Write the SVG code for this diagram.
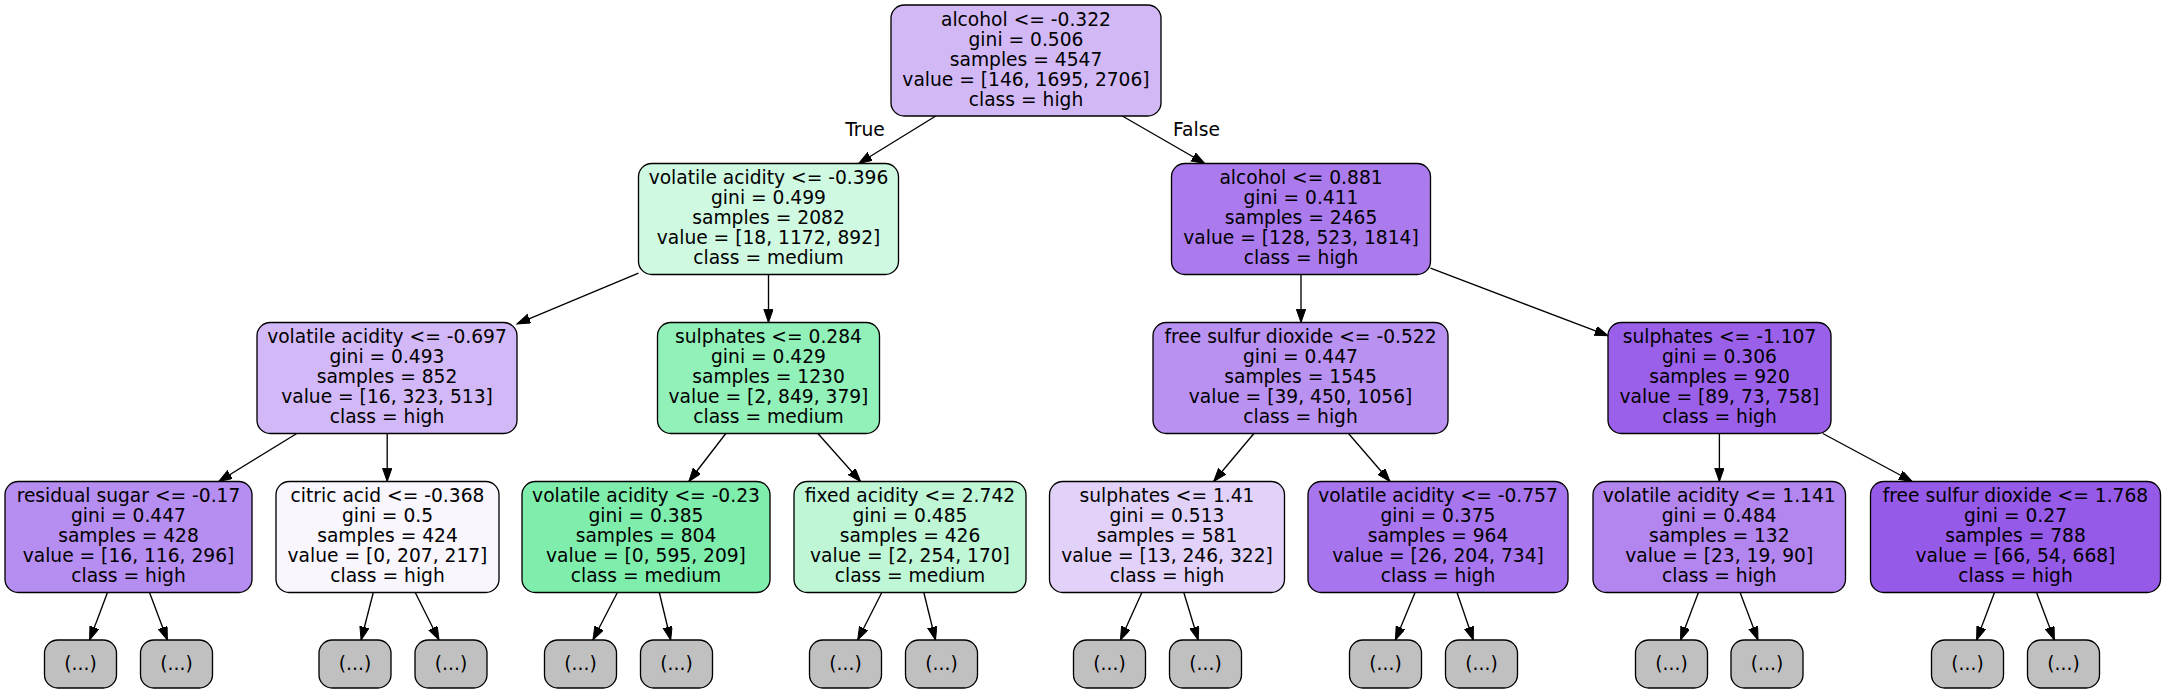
<svg xmlns="http://www.w3.org/2000/svg" width="2165" height="693" viewBox="0 0 2165 693">
<defs>
<style>
.n rect{stroke:#000;stroke-width:1.33}
.leaf rect{fill:#c0c0c0}
text{font-family:"DejaVu Sans","Liberation Sans",sans-serif;font-size:18.67px;fill:#000;text-anchor:middle}
.e line{stroke:#000;stroke-width:1.33;marker-end:url(#ah)}
</style>
<marker id="ah" markerUnits="userSpaceOnUse" markerWidth="15" markerHeight="11" refX="13.3" refY="4.67" orient="auto">
<path d="M0,0 L13.3,4.67 L0,9.33 z" fill="#000" stroke="#000" stroke-width="1"/>
</marker>
</defs>
<rect width="2165" height="693" fill="#fff"/>
<g id="connectors" class="e">
<line x1="935.8" y1="116" x2="858.7" y2="163.5"/>
<line x1="1122.3" y1="116" x2="1204.7" y2="163.5"/>
<line x1="638.5" y1="273.2" x2="517" y2="323.8"/>
<line x1="768.5" y1="274.5" x2="768.5" y2="322.5"/>
<line x1="1301" y1="274.5" x2="1301" y2="322.5"/>
<line x1="1430.5" y1="268.2" x2="1608" y2="335.6"/>
<line x1="296.8" y1="433.5" x2="218.7" y2="481.5"/>
<line x1="387.2" y1="433.5" x2="387.2" y2="481.5"/>
<line x1="107.5" y1="592.5" x2="89.6" y2="640"/>
<line x1="149.5" y1="592.5" x2="167.4" y2="640"/>
<line x1="373.3" y1="592.5" x2="361.1" y2="640"/>
<line x1="415.2" y1="592.5" x2="439" y2="640"/>
<line x1="725.8" y1="433.5" x2="688.8" y2="481.5"/>
<line x1="817.9" y1="433.5" x2="860.6" y2="481.5"/>
<line x1="617.4" y1="592.5" x2="592.9" y2="640"/>
<line x1="659.3" y1="592.5" x2="670.7" y2="640"/>
<line x1="881.8" y1="592.5" x2="857.7" y2="640"/>
<line x1="923.8" y1="592.5" x2="935.5" y2="640"/>
<line x1="1253.9" y1="433.5" x2="1213.6" y2="481.5"/>
<line x1="1348.5" y1="433.5" x2="1390" y2="481.5"/>
<line x1="1141.9" y1="592.5" x2="1120.4" y2="640"/>
<line x1="1183.8" y1="592.5" x2="1198.2" y2="640"/>
<line x1="1415.1" y1="592.5" x2="1395.4" y2="640"/>
<line x1="1457" y1="592.5" x2="1473.3" y2="640"/>
<line x1="1719.4" y1="433.5" x2="1719.4" y2="481.5"/>
<line x1="1822.8" y1="433.5" x2="1912.2" y2="481.5"/>
<line x1="1698.4" y1="592.5" x2="1680.5" y2="640"/>
<line x1="1740.1" y1="592.5" x2="1758" y2="640"/>
<line x1="1994.5" y1="592.5" x2="1976.6" y2="640"/>
<line x1="2036.5" y1="592.5" x2="2054.4" y2="640"/>
<text x="865" y="136">True</text>
<text x="1196.5" y="136">False</text>
</g>
<g id="n0" class="n"><rect x="891" y="5" width="270" height="111" rx="13.3" fill="#d2b9f6"/>
<text x="1026" y="25.5">alcohol &lt;= -0.322</text><text x="1026" y="45.5">gini = 0.506</text><text x="1026" y="65.5">samples = 4547</text><text x="1026" y="85.5">value = [146, 1695, 2706]</text><text x="1026" y="105.5">class = high</text></g>
<g id="n1" class="n"><rect x="638.5" y="163.5" width="260" height="111" rx="13.3" fill="#d0f9e1"/>
<text x="768.5" y="184">volatile acidity &lt;= -0.396</text><text x="768.5" y="204">gini = 0.499</text><text x="768.5" y="224">samples = 2082</text><text x="768.5" y="244">value = [18, 1172, 892]</text><text x="768.5" y="264">class = medium</text></g>
<g id="n16" class="n"><rect x="1171.5" y="163.5" width="259" height="111" rx="13.3" fill="#ab7bee"/>
<text x="1301" y="184">alcohol &lt;= 0.881</text><text x="1301" y="204">gini = 0.411</text><text x="1301" y="224">samples = 2465</text><text x="1301" y="244">value = [128, 523, 1814]</text><text x="1301" y="264">class = high</text></g>
<g id="n2" class="n"><rect x="257" y="322.5" width="260" height="111" rx="13.3" fill="#d2b8f6"/>
<text x="387" y="343">volatile acidity &lt;= -0.697</text><text x="387" y="363">gini = 0.493</text><text x="387" y="383">samples = 852</text><text x="387" y="403">value = [16, 323, 513]</text><text x="387" y="423">class = high</text></g>
<g id="n9" class="n"><rect x="657.5" y="322.5" width="222" height="111" rx="13.3" fill="#92f1b9"/>
<text x="768.5" y="343">sulphates &lt;= 0.284</text><text x="768.5" y="363">gini = 0.429</text><text x="768.5" y="383">samples = 1230</text><text x="768.5" y="403">value = [2, 849, 379]</text><text x="768.5" y="423">class = medium</text></g>
<g id="n17" class="n"><rect x="1153" y="322.5" width="295" height="111" rx="13.3" fill="#b991f1"/>
<text x="1300.5" y="343">free sulfur dioxide &lt;= -0.522</text><text x="1300.5" y="363">gini = 0.447</text><text x="1300.5" y="383">samples = 1545</text><text x="1300.5" y="403">value = [39, 450, 1056]</text><text x="1300.5" y="423">class = high</text></g>
<g id="n24" class="n"><rect x="1608" y="322.5" width="223" height="111" rx="13.3" fill="#9a60ea"/>
<text x="1719.5" y="343">sulphates &lt;= -1.107</text><text x="1719.5" y="363">gini = 0.306</text><text x="1719.5" y="383">samples = 920</text><text x="1719.5" y="403">value = [89, 73, 758]</text><text x="1719.5" y="423">class = high</text></g>
<g id="n3" class="n"><rect x="5" y="481.5" width="247" height="111" rx="13.3" fill="#b68df0"/>
<text x="128.5" y="502">residual sugar &lt;= -0.17</text><text x="128.5" y="522">gini = 0.447</text><text x="128.5" y="542">samples = 428</text><text x="128.5" y="562">value = [16, 116, 296]</text><text x="128.5" y="582">class = high</text></g>
<g id="n6" class="n"><rect x="276" y="481.5" width="223" height="111" rx="13.3" fill="#f9f6fe"/>
<text x="387.5" y="502">citric acid &lt;= -0.368</text><text x="387.5" y="522">gini = 0.5</text><text x="387.5" y="542">samples = 424</text><text x="387.5" y="562">value = [0, 207, 217]</text><text x="387.5" y="582">class = high</text></g>
<g id="n10" class="n"><rect x="522" y="481.5" width="248" height="111" rx="13.3" fill="#7feead"/>
<text x="646" y="502">volatile acidity &lt;= -0.23</text><text x="646" y="522">gini = 0.385</text><text x="646" y="542">samples = 804</text><text x="646" y="562">value = [0, 595, 209]</text><text x="646" y="582">class = medium</text></g>
<g id="n13" class="n"><rect x="794" y="481.5" width="232" height="111" rx="13.3" fill="#bef6d6"/>
<text x="910" y="502">fixed acidity &lt;= 2.742</text><text x="910" y="522">gini = 0.485</text><text x="910" y="542">samples = 426</text><text x="910" y="562">value = [2, 254, 170]</text><text x="910" y="582">class = medium</text></g>
<g id="n18" class="n"><rect x="1049.5" y="481.5" width="235" height="111" rx="13.3" fill="#e2d2f9"/>
<text x="1167" y="502">sulphates &lt;= 1.41</text><text x="1167" y="522">gini = 0.513</text><text x="1167" y="542">samples = 581</text><text x="1167" y="562">value = [13, 246, 322]</text><text x="1167" y="582">class = high</text></g>
<g id="n21" class="n"><rect x="1308" y="481.5" width="260" height="111" rx="13.3" fill="#a775ed"/>
<text x="1438" y="502">volatile acidity &lt;= -0.757</text><text x="1438" y="522">gini = 0.375</text><text x="1438" y="542">samples = 964</text><text x="1438" y="562">value = [26, 204, 734]</text><text x="1438" y="582">class = high</text></g>
<g id="n25" class="n"><rect x="1593" y="481.5" width="252.5" height="111" rx="13.3" fill="#b285ef"/>
<text x="1719.25" y="502">volatile acidity &lt;= 1.141</text><text x="1719.25" y="522">gini = 0.484</text><text x="1719.25" y="542">samples = 132</text><text x="1719.25" y="562">value = [23, 19, 90]</text><text x="1719.25" y="582">class = high</text></g>
<g id="n28" class="n"><rect x="1870.5" y="481.5" width="290" height="111" rx="13.3" fill="#965ae9"/>
<text x="2015.5" y="502">free sulfur dioxide &lt;= 1.768</text><text x="2015.5" y="522">gini = 0.27</text><text x="2015.5" y="542">samples = 788</text><text x="2015.5" y="562">value = [66, 54, 668]</text><text x="2015.5" y="582">class = high</text></g>
<g id="n4" class="n leaf"><rect x="44.5" y="640" width="72" height="48" rx="13.3"/><text x="80.5" y="669.5">(...)</text></g>
<g id="n5" class="n leaf"><rect x="140.5" y="640" width="72" height="48" rx="13.3"/><text x="176.5" y="669.5">(...)</text></g>
<g id="n7" class="n leaf"><rect x="319" y="640" width="72" height="48" rx="13.3"/><text x="355" y="669.5">(...)</text></g>
<g id="n8" class="n leaf"><rect x="415" y="640" width="72" height="48" rx="13.3"/><text x="451" y="669.5">(...)</text></g>
<g id="n11" class="n leaf"><rect x="544.5" y="640" width="72" height="48" rx="13.3"/><text x="580.5" y="669.5">(...)</text></g>
<g id="n12" class="n leaf"><rect x="640.5" y="640" width="72" height="48" rx="13.3"/><text x="676.5" y="669.5">(...)</text></g>
<g id="n14" class="n leaf"><rect x="809.5" y="640" width="72" height="48" rx="13.3"/><text x="845.5" y="669.5">(...)</text></g>
<g id="n15" class="n leaf"><rect x="905.5" y="640" width="72" height="48" rx="13.3"/><text x="941.5" y="669.5">(...)</text></g>
<g id="n19" class="n leaf"><rect x="1073.5" y="640" width="72" height="48" rx="13.3"/><text x="1109.5" y="669.5">(...)</text></g>
<g id="n20" class="n leaf"><rect x="1169.5" y="640" width="72" height="48" rx="13.3"/><text x="1205.5" y="669.5">(...)</text></g>
<g id="n22" class="n leaf"><rect x="1349.5" y="640" width="72" height="48" rx="13.3"/><text x="1385.5" y="669.5">(...)</text></g>
<g id="n23" class="n leaf"><rect x="1445.5" y="640" width="72" height="48" rx="13.3"/><text x="1481.5" y="669.5">(...)</text></g>
<g id="n26" class="n leaf"><rect x="1635.5" y="640" width="72" height="48" rx="13.3"/><text x="1671.5" y="669.5">(...)</text></g>
<g id="n27" class="n leaf"><rect x="1731" y="640" width="72" height="48" rx="13.3"/><text x="1767" y="669.5">(...)</text></g>
<g id="n29" class="n leaf"><rect x="1931.5" y="640" width="72" height="48" rx="13.3"/><text x="1967.5" y="669.5">(...)</text></g>
<g id="n30" class="n leaf"><rect x="2027.5" y="640" width="72" height="48" rx="13.3"/><text x="2063.5" y="669.5">(...)</text></g>
</svg>
